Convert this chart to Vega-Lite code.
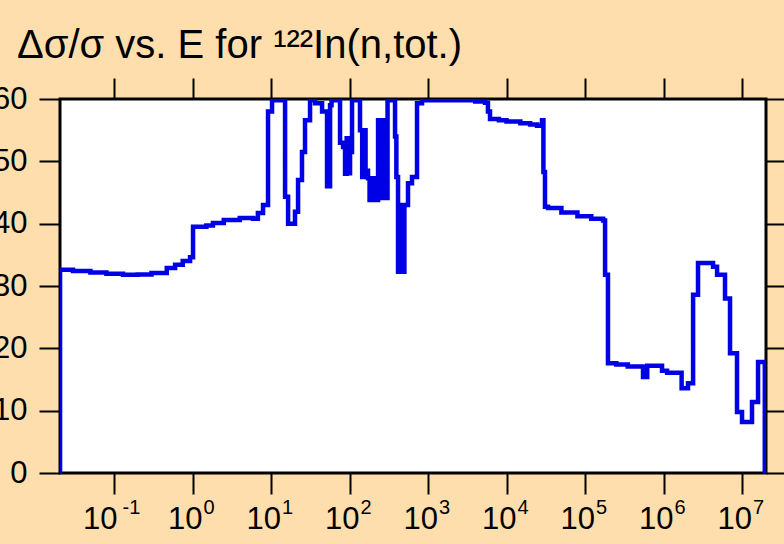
{
  "$schema": "https://vega.github.io/schema/vega-lite/v6.json",
  "width": 706,
  "height": 374,
  "autosize": {"type": "none"},
  "padding": {"left": 60, "top": 99, "right": 18, "bottom": 71},
  "background": "#ffdead",
  "config": {
    "font": "Liberation Sans",
    "view": {"stroke": "#000000", "strokeWidth": 3, "fill": "#ffffff"},
    "axis": {"grid": false, "domain": false, "tickColor": "#000000", "tickWidth": 2, "tickSize": 21, "labelColor": "#000000", "labelFont": "Liberation Sans", "labelFontSize": 31, "labelFlush": false, "labelOverlap": false, "labelBound": false, "title": null}
  },
  "title": {"text": "Δσ/σ vs. E for ¹²²In(n,tot.)", "anchor": "start", "frame": "group", "dx": -43, "dy": 37, "fontSize": 40, "fontWeight": "normal", "font": "Liberation Sans", "color": "#000000", "baseline": "alphabetic", "offset": 16},
  "data": {"values": [
    {"E": 0.0205, "v": 0},
    {"E": 0.02052, "v": 32.6},
    {"E": 0.03, "v": 32.4},
    {"E": 0.05, "v": 32.15},
    {"E": 0.08, "v": 31.95},
    {"E": 0.13, "v": 31.8},
    {"E": 0.2, "v": 31.85},
    {"E": 0.3, "v": 32.1},
    {"E": 0.47, "v": 32.9},
    {"E": 0.6, "v": 33.4},
    {"E": 0.75, "v": 34.0},
    {"E": 0.93, "v": 34.6},
    {"E": 1.015, "v": 39.5},
    {"E": 1.5, "v": 39.7},
    {"E": 1.82, "v": 40.1},
    {"E": 2.5, "v": 40.6},
    {"E": 4.0, "v": 40.9},
    {"E": 5.9, "v": 40.8},
    {"E": 6.8, "v": 41.7},
    {"E": 7.91, "v": 43.0},
    {"E": 9.16, "v": 58.0},
    {"E": 10.3, "v": 59.8},
    {"E": 15.1, "v": 44.3},
    {"E": 16.5, "v": 40.0},
    {"E": 20.2, "v": 41.9},
    {"E": 22.1, "v": 47.0},
    {"E": 24.8, "v": 51.5},
    {"E": 27.1, "v": 56.6},
    {"E": 31.4, "v": 59.8},
    {"E": 36.4, "v": 59.3},
    {"E": 44.7, "v": 58.0},
    {"E": 51.7, "v": 46.0},
    {"E": 56.5, "v": 59.0},
    {"E": 59.0, "v": 59.8},
    {"E": 75.7, "v": 53.0},
    {"E": 82.7, "v": 52.3},
    {"E": 87.7, "v": 48.0},
    {"E": 92.0, "v": 53.7},
    {"E": 95.7, "v": 48.1},
    {"E": 101.5, "v": 51.5},
    {"E": 107.6, "v": 59.8},
    {"E": 136, "v": 55.0},
    {"E": 145, "v": 47.5},
    {"E": 153, "v": 55.0},
    {"E": 160, "v": 48.5},
    {"E": 172, "v": 47.3},
    {"E": 180, "v": 43.8},
    {"E": 194, "v": 47.3},
    {"E": 211, "v": 43.8},
    {"E": 231, "v": 56.6},
    {"E": 260, "v": 44.1},
    {"E": 275, "v": 56.6},
    {"E": 292, "v": 44.1},
    {"E": 305, "v": 59.8},
    {"E": 380, "v": 54.0},
    {"E": 395, "v": 47.5},
    {"E": 415, "v": 32.3},
    {"E": 440, "v": 43.0},
    {"E": 470, "v": 32.3},
    {"E": 500, "v": 43.0},
    {"E": 556, "v": 46.5},
    {"E": 625, "v": 47.5},
    {"E": 724, "v": 59.3},
    {"E": 839, "v": 59.8},
    {"E": 2000, "v": 59.8},
    {"E": 4000, "v": 59.6},
    {"E": 5320, "v": 59.4},
    {"E": 5800, "v": 58.0},
    {"E": 6160, "v": 56.8},
    {"E": 8000, "v": 56.6},
    {"E": 10000, "v": 56.4},
    {"E": 15000, "v": 56.1},
    {"E": 20000, "v": 55.9},
    {"E": 24500, "v": 55.7},
    {"E": 28300, "v": 56.6},
    {"E": 29500, "v": 48.3},
    {"E": 30900, "v": 42.7},
    {"E": 33800, "v": 42.5},
    {"E": 50000, "v": 41.8},
    {"E": 80000, "v": 41.2},
    {"E": 120000, "v": 40.8},
    {"E": 170000, "v": 40.5},
    {"E": 180000, "v": 31.8},
    {"E": 196000, "v": 17.6},
    {"E": 250000, "v": 17.4},
    {"E": 350000, "v": 17.1},
    {"E": 548000, "v": 15.4},
    {"E": 620000, "v": 17.2},
    {"E": 957000, "v": 16.4},
    {"E": 1110000, "v": 16.1},
    {"E": 1700000, "v": 13.6},
    {"E": 2050000, "v": 14.4},
    {"E": 2380000, "v": 28.6},
    {"E": 2750000, "v": 33.7},
    {"E": 4270000, "v": 33.1},
    {"E": 4810000, "v": 31.8},
    {"E": 6070000, "v": 28.0},
    {"E": 7030000, "v": 19.2},
    {"E": 8630000, "v": 9.8},
    {"E": 10000000, "v": 8.2},
    {"E": 13400000, "v": 11.4},
    {"E": 16000000, "v": 17.8},
    {"E": 19500000, "v": 0}
  ]},
  "layer": [
    {
      "mark": {"type": "line", "interpolate": "step-after", "color": "#0000e6", "strokeWidth": 4.5, "clip": true, "strokeJoin": "miter"},
      "encoding": {
        "x": {"field": "E", "type": "quantitative",
          "scale": {"type": "log", "domain": [0.0205, 20200000], "nice": false},
          "axis": {"orient": "bottom", "values": [0.1, 1, 10, 100, 1000, 10000, 100000, 1000000, 10000000],
            "labelExpr": "'10'", "labelAlign": "right",
            "labelOffset": {"condition": {"test": "datum.value < 0.5", "value": 3}, "value": 9.5},
            "labelPadding": 10, "labelBaseline": "top"}},
        "y": {"field": "v", "type": "quantitative",
          "scale": {"domain": [0, 60], "nice": false, "zero": false},
          "axis": {"orient": "left", "values": [0, 10, 20, 30, 40, 50, 60], "labelPadding": 12, "labelBaseline": "middle"}}
      }
    },
    {
      "mark": {"type": "line", "opacity": 0},
      "encoding": {
        "x": {"field": "E", "type": "quantitative",
          "axis": {"orient": "top", "values": [0.1, 1, 10, 100, 1000, 10000, 100000, 1000000, 10000000], "labels": false}},
        "y": {"field": "v", "type": "quantitative",
          "axis": {"orient": "right", "values": [0, 10, 20, 30, 40, 50, 60], "labels": false}}
      }
    },
    {
      "mark": {"type": "line", "opacity": 0},
      "encoding": {
        "x": {"field": "E", "type": "quantitative",
          "axis": {"orient": "bottom", "values": [0.1, 1, 10, 100, 1000, 10000, 100000, 1000000, 10000000],
            "labelExpr": "'' + round(log(datum.value) / LN10)", "labelFontSize": 20,
            "ticks": false, "tickSize": 0, "labelPadding": 24.5, "labelAlign": "left", "labelBaseline": "top",
            "labelOffset": {"condition": {"test": "datum.value < 0.5", "value": 8}, "value": 10.5}}},
        "y": {"field": "v", "type": "quantitative", "axis": null}
      }
    }
  ],
  "resolve": {"axis": {"x": "independent", "y": "independent"}}
}
